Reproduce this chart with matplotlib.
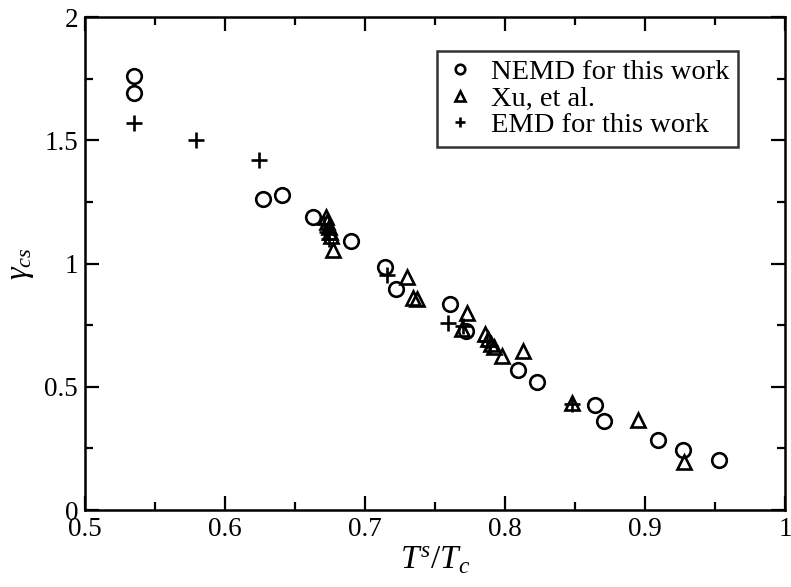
import matplotlib
matplotlib.use("Agg")
import matplotlib.pyplot as plt
from matplotlib.ticker import MultipleLocator, FuncFormatter

plt.rcParams['font.family'] = ['Liberation Serif', 'DejaVu Serif']
plt.rcParams['mathtext.fontset'] = 'custom'
plt.rcParams['mathtext.rm'] = 'Liberation Serif'
plt.rcParams['mathtext.it'] = 'Liberation Serif:italic'

# NEMD results (this work)
nemd_x = [0.535, 0.535, 0.627, 0.641, 0.663, 0.690, 0.714, 0.722, 0.761, 0.772,
          0.809, 0.823, 0.864, 0.871, 0.909, 0.927, 0.953]
nemd_y = [1.76, 1.69, 1.26, 1.28, 1.19, 1.09, 0.985, 0.895, 0.835, 0.725,
          0.570, 0.520, 0.425, 0.360, 0.284, 0.243, 0.203]

# Xu, et al.
xu_x = [0.672, 0.673, 0.674, 0.675, 0.676, 0.677, 0.730, 0.734, 0.737, 0.773,
        0.769, 0.786, 0.788, 0.790, 0.792, 0.798, 0.813, 0.848, 0.895, 0.928]
xu_y = [1.19, 1.17, 1.15, 1.13, 1.11, 1.055, 0.945, 0.860, 0.855, 0.800,
        0.735, 0.715, 0.695, 0.675, 0.660, 0.625, 0.645, 0.435, 0.365, 0.195]

# EMD results (this work)
emd_x = [0.535, 0.579, 0.624, 0.671, 0.673, 0.674, 0.716, 0.759, 0.770, 0.787, 0.789, 0.848]
emd_y = [1.57, 1.50, 1.42, 1.16, 1.13, 1.10, 0.955, 0.760, 0.745, 0.685, 0.665, 0.430]

fig = plt.figure(figsize=(7.91, 5.87), dpi=100)
ax = fig.add_axes([0.1075, 0.131, 0.885, 0.840])

ms = 10.5
ax.plot(nemd_x, nemd_y, linestyle='none', marker='o', markersize=ms,
        markerfacecolor='none', markeredgecolor='black', markeredgewidth=1.9,
        label='NEMD for this work')
ax.plot(xu_x, xu_y, linestyle='none', marker='^', markersize=ms,
        markerfacecolor='none', markeredgecolor='black', markeredgewidth=1.9,
        label='Xu, et al.')
ax.plot(emd_x, emd_y, linestyle='none', marker='+', markersize=ms + 1.5,
        color='black', markeredgewidth=1.9, label='EMD for this work')

ax.set_xlim(0.5, 1.0)
ax.set_ylim(0, 2)
ax.xaxis.set_major_locator(MultipleLocator(0.1))
ax.xaxis.set_minor_locator(MultipleLocator(0.05))
ax.yaxis.set_major_locator(MultipleLocator(0.5))
ax.yaxis.set_minor_locator(MultipleLocator(0.25))
fmt = FuncFormatter(lambda v, p: '%g' % round(v, 3))
ax.xaxis.set_major_formatter(fmt)
ax.yaxis.set_major_formatter(fmt)

ax.tick_params(which='both', direction='in', top=True, right=True,
               labelsize=19.5, width=1.6, pad=5)
ax.tick_params(which='major', length=10)
ax.tick_params(which='minor', length=5.5)
for s in ax.spines.values():
    s.set_linewidth(1.8)

ax.set_xlabel(r'$T^s/T_c$', fontsize=24, labelpad=2)
ax.set_ylabel(r'$\gamma_{cs}$', fontsize=23, labelpad=6)

leg = ax.legend(loc='upper left', bbox_to_anchor=(0.503, 0.932), borderaxespad=0,
                fontsize=20.5, frameon=True, fancybox=False, edgecolor='black',
                handlelength=1.0, handletextpad=0.6, borderpad=0.3,
                labelspacing=0.02, markerscale=0.65)
leg.get_frame().set_linewidth(1.8)

fig.savefig('out.png', dpi=100)
